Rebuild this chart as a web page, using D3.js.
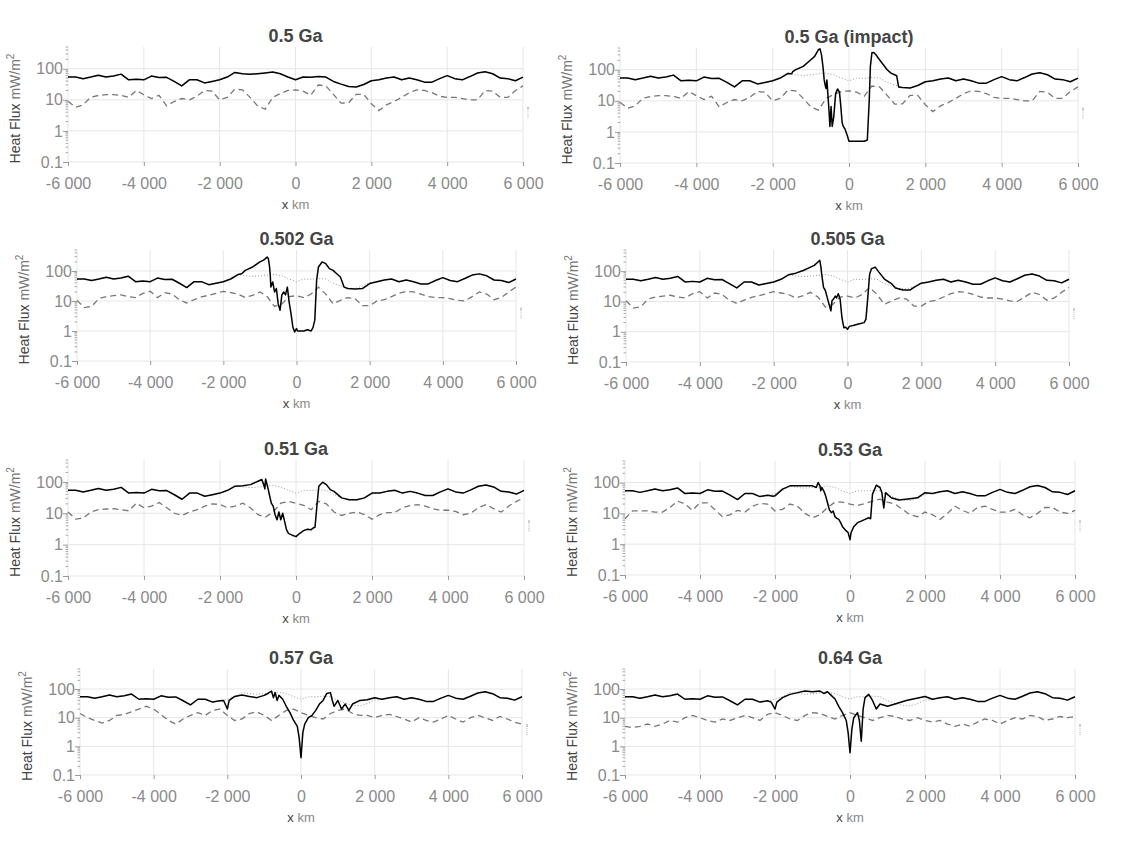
<!DOCTYPE html>
<html>
<head>
<meta charset="utf-8">
<script src="https://cdn.jsdelivr.net/npm/d3@7"></script>
<style>
  body { margin: 0; background: #fff; }
  svg { display: block; font-family: "Liberation Sans", Arial, sans-serif; }
</style>
</head>
<body>
<svg width="1125" height="843"></svg>
<script>
'use strict';

// sample positions along the profile (km)
var xKm = [
  -6000, -5800, -5600, -5400, -5200, -5000, -4800, -4600, -4400, -4200,
  -4000, -3800, -3600, -3400, -3200, -3000, -2800, -2600, -2400, -2200,
  -2000, -1800, -1600, -1400, -1200, -1000, -800, -600, -400, -200,
  0, 200, 400, 600, 800, 1000, 1200, 1400, 1600, 1800,
  2000, 2200, 2400, 2600, 2800, 3000, 3200, 3400, 3600, 3800,
  4000, 4200, 4400, 4600, 4800, 5000, 5200, 5400, 5600, 5800,
  6000
];

// surface heat flux before impact (also the dotted reference curve)
var baseFlux = [
  54, 54, 48, 54, 62, 54, 58, 67, 44, 46,
  44, 58, 52, 53, 39, 28, 44, 44, 35, 39,
  44, 54, 76, 69, 66, 69, 73, 78, 69, 54,
  44, 54, 53, 56, 54, 39, 32, 27, 26, 31,
  41, 44, 50, 54, 44, 50, 44, 37, 37, 48,
  60, 48, 44, 56, 73, 80, 69, 50, 48, 41,
  54
];

// dashed curves
var dashed05 = [
  9, 5.8, 6.9, 12.2, 13.8, 14.6, 14.6, 14, 12, 20,
  14.6, 11, 14, 6.4, 8.8, 11, 10, 13, 20, 19,
  10, 12, 22, 21, 12, 6.4, 5, 12, 16, 20,
  21, 19, 14, 30, 28, 15, 7.8, 8, 15, 15,
  7.5, 4.5, 6.9, 8.8, 12, 17, 21, 20, 17, 13,
  12, 12, 11, 10, 10, 20, 19, 12, 12, 20,
  28
];
var dashed0502 = [
  10.5, 6, 6.6, 12, 14, 15, 16, 14, 13, 18,
  21, 13, 19, 17, 11, 8.6, 11, 13.7, 15.5, 18,
  21, 19, 17, 13, 15.5, 20, 14, 6.6, 8, 14,
  15, 13, 17, 29, 17, 8, 10.5, 13, 12, 7,
  7, 10, 11, 14, 18, 21, 20, 17, 14, 13,
  13, 12, 10.5, 10, 14, 20, 17, 11, 13, 20,
  29
];
var dashed051 = [
  11, 6.5, 7, 11, 13, 13.7, 14, 13, 12, 21,
  15, 17, 22, 15, 10, 8.5, 11, 13, 17, 20,
  19, 15, 17, 21, 15, 9, 7.6, 11, 21, 24,
  21, 18, 13, 24, 20, 11, 8.5, 10, 11, 9,
  6.5, 9, 10.5, 10.5, 15, 17.5, 19, 17, 14, 12.5,
  12.5, 11.5, 9, 10, 15, 19, 14, 11, 17, 24,
  31
];
var dashed053 = [
  6.7, 12, 12, 12, 11, 11, 15.5, 25, 20, 12.5,
  22, 22, 13, 7.8, 9, 12.5, 11, 17, 21, 20,
  12, 13.5, 20, 17, 10, 7.2, 9, 15.5, 23, 23,
  20, 18, 21, 25, 29, 23, 20, 13.5, 9, 7.8,
  11, 9, 6.4, 10, 17, 12.5, 10, 15.5, 17, 13.5,
  11, 11, 13.5, 9, 7.2, 10, 15.5, 15.5, 11, 10,
  12.5
];
var dashed057 = [
  14, 10, 8, 6.5, 8, 12, 13, 16, 20, 25,
  20, 13, 8, 6, 9, 12, 15, 12, 18, 20,
  12, 8, 9, 14, 16, 12, 8, 12, 18, 20,
  15, 12, 10, 9, 14, 18, 20, 14, 12, 12,
  10, 12, 13, 11, 9, 7, 10, 8, 7, 9,
  12, 9, 7, 10, 12, 10, 8, 11, 9, 7,
  6
];
var dashed064 = [
  5, 4.5, 5, 6, 5, 6, 8, 7, 10, 12,
  10, 8, 7, 9, 8, 10, 12, 10, 8, 13,
  15, 12, 9, 8, 12, 15, 14, 11, 9, 12,
  15, 12, 10, 8, 10, 12, 11, 9, 8, 10,
  8, 7, 8, 6, 5, 6, 5, 7, 9, 8,
  6, 8, 10, 9, 12, 11, 8, 9, 11, 10,
  11
];

// surface flux in the disturbed zone, [x km, mW/m2]
var zone05impact = [
  [-1600, 76], [-1500, 74], [-1480, 85], [-1400, 100], [-1200, 128], [-1000, 210],
  [-900, 270], [-800, 440], [-760, 470], [-720, 300], [-680, 120], [-650, 47],
  [-620, 30], [-600, 25], [-580, 47], [-550, 14], [-520, 4], [-500, 1.5],
  [-470, 6.6], [-440, 1.5], [-400, 3], [-350, 17], [-300, 24], [-250, 19],
  [-220, 8], [-180, 2], [-150, 1.5], [-100, 1.2], [-50, 0.8], [-20, 0.6],
  [0, 0.5], [200, 0.5], [400, 0.5], [480, 0.55], [530, 10], [560, 128],
  [600, 350], [650, 360], [700, 310], [800, 210], [900, 145], [1000, 100],
  [1100, 78], [1250, 64], [1300, 28], [1400, 27], [1600, 26]
];
var zone0502 = [
  [-1600, 76], [-1500, 81], [-1400, 105], [-1200, 136], [-1000, 200], [-900, 230],
  [-850, 257], [-800, 290], [-770, 260], [-740, 150], [-720, 81], [-700, 29],
  [-650, 43], [-600, 20], [-550, 26], [-500, 8], [-450, 4.9], [-400, 16],
  [-350, 20], [-300, 16], [-250, 29], [-200, 9], [-150, 3.8], [-100, 1.36],
  [-50, 0.93], [0, 1.2], [30, 1.0], [100, 1.0], [200, 1.0], [300, 1.1],
  [400, 1.0], [450, 1.3], [500, 2.3], [550, 49], [600, 136], [700, 200],
  [800, 175], [900, 120], [1000, 105], [1100, 81], [1200, 63], [1300, 29],
  [1400, 26], [1600, 25], [1800, 26], [2000, 38]
];
var zone0505 = [
  [-1600, 76], [-1400, 86], [-1200, 105], [-1000, 136], [-900, 155], [-800, 200],
  [-750, 227], [-720, 136], [-700, 81], [-650, 29], [-600, 23], [-550, 13.6],
  [-500, 8.1], [-450, 4.9], [-420, 10.5], [-380, 12], [-330, 15], [-300, 13],
  [-250, 18], [-200, 12], [-150, 2.9], [-100, 1.36], [-50, 1.4], [0, 1.2],
  [50, 1.5], [150, 1.6], [300, 1.8], [450, 2.0], [500, 2.6], [550, 13.6],
  [600, 81], [650, 120], [750, 136], [850, 93], [1000, 55], [1200, 38],
  [1300, 28], [1500, 24], [1700, 24], [1800, 29], [2000, 40]
];
var zone051 = [
  [-1600, 73], [-1400, 76], [-1200, 82], [-1000, 105], [-900, 119], [-850, 82],
  [-820, 60], [-800, 124], [-750, 73], [-700, 39], [-650, 21], [-600, 17],
  [-550, 9], [-500, 6.2], [-450, 11], [-400, 6.2], [-350, 10], [-300, 5.5],
  [-250, 3], [-200, 2.3], [-100, 2.0], [0, 1.8], [100, 2.3], [200, 2.8],
  [300, 3.1], [400, 3], [450, 3.4], [500, 3.6], [550, 17], [600, 73],
  [700, 98], [800, 82], [900, 57], [1000, 50], [1200, 31], [1400, 27],
  [1600, 27], [1800, 31], [2000, 44]
];
var zone053 = [
  [-2200, 39], [-2050, 36], [-2000, 37], [-1800, 61], [-1600, 78], [-1400, 78],
  [-1200, 78], [-1000, 78], [-900, 69], [-850, 100], [-800, 78], [-780, 54],
  [-750, 69], [-700, 54], [-650, 37], [-600, 22], [-550, 13], [-500, 10.5],
  [-450, 12], [-400, 7.8], [-350, 6.9], [-300, 6.4], [-250, 5], [-200, 3.7],
  [-100, 2.7], [-50, 2.4], [0, 1.4], [30, 2.4], [100, 3.7], [200, 5],
  [300, 5.6], [400, 6.4], [500, 7.2], [550, 6.7], [600, 42], [700, 82],
  [800, 69], [850, 47], [900, 15], [950, 47], [1100, 32], [1300, 27],
  [1600, 30], [1800, 32], [2000, 47]
];
var zone057 = [
  [-2200, 39], [-2100, 40], [-2000, 20], [-1950, 40], [-1800, 55], [-1600, 62],
  [-1400, 55], [-1200, 50], [-1000, 60], [-900, 70], [-800, 85], [-750, 50],
  [-700, 75], [-650, 40], [-600, 60], [-500, 45], [-400, 25], [-300, 15],
  [-200, 8], [-100, 5], [-50, 2], [0, 0.4], [50, 3], [100, 6],
  [200, 10], [300, 12], [400, 18], [500, 30], [600, 40], [700, 70],
  [800, 75], [850, 40], [900, 25], [1000, 40], [1100, 20], [1200, 30],
  [1300, 18], [1400, 30], [1600, 40], [1800, 42], [2000, 50]
];
var zone064 = [
  [-2200, 39], [-2100, 35], [-2000, 20], [-1950, 35], [-1800, 50], [-1600, 65],
  [-1400, 75], [-1200, 85], [-1000, 80], [-800, 85], [-700, 70], [-600, 80],
  [-500, 60], [-400, 45], [-300, 25], [-200, 15], [-100, 8], [-50, 3],
  [0, 0.6], [50, 4], [100, 10], [200, 15], [250, 8], [300, 1.5],
  [350, 20], [400, 50], [500, 65], [600, 40], [700, 20], [800, 30],
  [1000, 25], [1200, 30], [1500, 40], [2000, 55]
];

var titles = ['0.5 Ga', '0.5 Ga (impact)', '0.502 Ga', '0.505 Ga',
              '0.51 Ga', '0.53 Ga', '0.57 Ga', '0.64 Ga'];
var zones = [null, zone05impact, zone0502, zone0505, zone051, zone053, zone057, zone064];
var dashedList = [dashed05, dashed05, dashed0502, dashed0502, dashed051, dashed053, dashed057, dashed064];

var xTicks = [-6000, -4000, -2000, 0, 2000, 4000, 6000];
var yTicks = [0.1, 1, 10, 100];

// panel boxes on the page
var layout = [
  { x0: 68, x1: 523, top: 47, bottom: 162 },
  { x0: 620, x1: 1078, top: 48, bottom: 163 },
  { x0: 77, x1: 516, top: 250, bottom: 361 },
  { x0: 626, x1: 1069, top: 250, bottom: 362 },
  { x0: 68, x1: 524, top: 460, bottom: 576 },
  { x0: 625, x1: 1075, top: 461, bottom: 575 },
  { x0: 80, x1: 522, top: 669, bottom: 775 },
  { x0: 625, x1: 1075, top: 669, bottom: 775 }
];

var svg = d3.select('svg');
var loc = d3.formatLocale({ decimal: '.', thousands: ' ', grouping: [3], currency: ['', ''], minus: '-' });
var fmtX = loc.format(',d');

// baseline with the disturbed part swapped in
var buildSolid = function (zone) {
  var pts = xKm.map(function (x, i) { return [x, baseFlux[i]]; });
  if (!zone) return pts;
  var a = zone[0][0], b = zone[zone.length - 1][0];
  return pts.filter(function (p) { return p[0] < a; })
    .concat(zone, pts.filter(function (p) { return p[0] > b; }));
};

// minor tick values for the log axis
var minorTicks = [];
[0.1, 1, 10, 100].forEach(function (d) {
  for (var k = 2; k <= 9; k++) {
    if (d * k <= 500) minorTicks.push(d * k);
  }
});

titles.forEach(function (title, i) {
  var L = layout[i];
  var x = d3.scaleLinear().domain([-6000, 6000]).range([L.x0, L.x1]);
  var y = d3.scaleLog().domain([0.1, 500]).range([L.bottom, L.top]);
  var g = svg.append('g');

  // grid
  g.selectAll('.vg').data(xTicks).enter().append('line')
    .attr('x1', function (d) { return x(d); }).attr('x2', function (d) { return x(d); })
    .attr('y1', L.top).attr('y2', L.bottom)
    .attr('stroke', '#e6e6e6').attr('stroke-width', 1);
  g.selectAll('.hg').data(yTicks).enter().append('line')
    .attr('x1', L.x0).attr('x2', L.x1)
    .attr('y1', function (d) { return y(d); }).attr('y2', function (d) { return y(d); })
    .attr('stroke', '#e6e6e6').attr('stroke-width', 1);

  // x axis
  var xAxis = g.append('g').attr('transform', 'translate(0,' + L.bottom + ')')
    .call(d3.axisBottom(x).tickValues(xTicks).tickFormat(fmtX).tickSize(4).tickPadding(12));
  xAxis.select('.domain').remove();
  xAxis.selectAll('line').attr('stroke', '#999');
  xAxis.selectAll('text').attr('fill', '#8a8a8a').attr('font-size', 16)
    .attr('font-family', '"Liberation Sans", Arial, sans-serif');

  // y axis
  var yAxis = g.append('g').attr('transform', 'translate(' + L.x0 + ',0)')
    .call(d3.axisLeft(y).tickValues(yTicks).tickFormat(function (d) { return String(d); }).tickSize(5).tickPadding(0));
  yAxis.select('.domain').remove();
  yAxis.selectAll('line').attr('stroke', '#999');
  yAxis.selectAll('text').attr('fill', '#8a8a8a').attr('font-size', 16)
    .attr('font-family', '"Liberation Sans", Arial, sans-serif');
  g.selectAll('.mt').data(minorTicks).enter().append('line')
    .attr('x1', L.x0 - 2.5).attr('x2', L.x0)
    .attr('y1', function (d) { return y(d); }).attr('y2', function (d) { return y(d); })
    .attr('stroke', '#aaa').attr('stroke-width', 1);

  // series
  var line = d3.line()
    .x(function (d) { return x(d[0]); })
    .y(function (d) { return y(d[1]); });
  var dashedPts = xKm.map(function (xv, j) { return [xv, dashedList[i][j]]; });
  var refPts = xKm.map(function (xv, j) { return [xv, baseFlux[j]]; });

  g.append('path').datum(dashedPts).attr('d', line)
    .attr('fill', 'none').attr('stroke', '#777').attr('stroke-width', 1.3)
    .attr('stroke-dasharray', '6,4');
  g.append('path').datum(refPts).attr('d', line)
    .attr('fill', 'none').attr('stroke', '#9a9a9a').attr('stroke-width', 1)
    .attr('stroke-dasharray', '1,2');
  g.append('path').datum(buildSolid(zones[i])).attr('d', line)
    .attr('fill', 'none').attr('stroke', '#000').attr('stroke-width', 1.5)
    .attr('stroke-linejoin', 'round');

  // tiny squeezed legend at right edge
  var lg = g.append('g').attr('transform', 'translate(' + (L.x1 + 5) + ',' + y(6) + ')');
  lg.append('line').attr('x1', 0).attr('x2', 0).attr('y1', 0).attr('y2', 3).attr('stroke', '#999');
  lg.append('line').attr('x1', 0).attr('x2', 0).attr('y1', 4).attr('y2', 7).attr('stroke', '#bbb').attr('stroke-dasharray', '1,1');
  lg.append('line').attr('x1', 0).attr('x2', 0).attr('y1', 8).attr('y2', 11).attr('stroke', '#aaa').attr('stroke-dasharray', '1,1');

  // title
  var cx = (L.x0 + L.x1) / 2;
  g.append('text').attr('x', cx).attr('y', L.top - 5)
    .attr('text-anchor', 'middle').attr('font-size', 18).attr('font-weight', 'bold')
    .attr('fill', '#444').text(title);

  // x label
  var xl = g.append('text').attr('x', cx).attr('y', L.bottom + 47)
    .attr('text-anchor', 'middle').attr('font-size', 13);
  xl.append('tspan').attr('fill', '#444').text('x ');
  xl.append('tspan').attr('fill', '#888').text('km');

  // y label
  var yl = g.append('text')
    .attr('transform', 'translate(' + (L.x0 - 48) + ',' + ((L.top + L.bottom) / 2 + 4) + ') rotate(-90)')
    .attr('text-anchor', 'middle').attr('font-size', 14);
  yl.append('tspan').attr('fill', '#444').text('Heat Flux ');
  yl.append('tspan').attr('fill', '#777').text('mW/m');
  yl.append('tspan').attr('fill', '#777').attr('font-size', 10).attr('dy', -6).text('2');
});
</script>
</body>
</html>
